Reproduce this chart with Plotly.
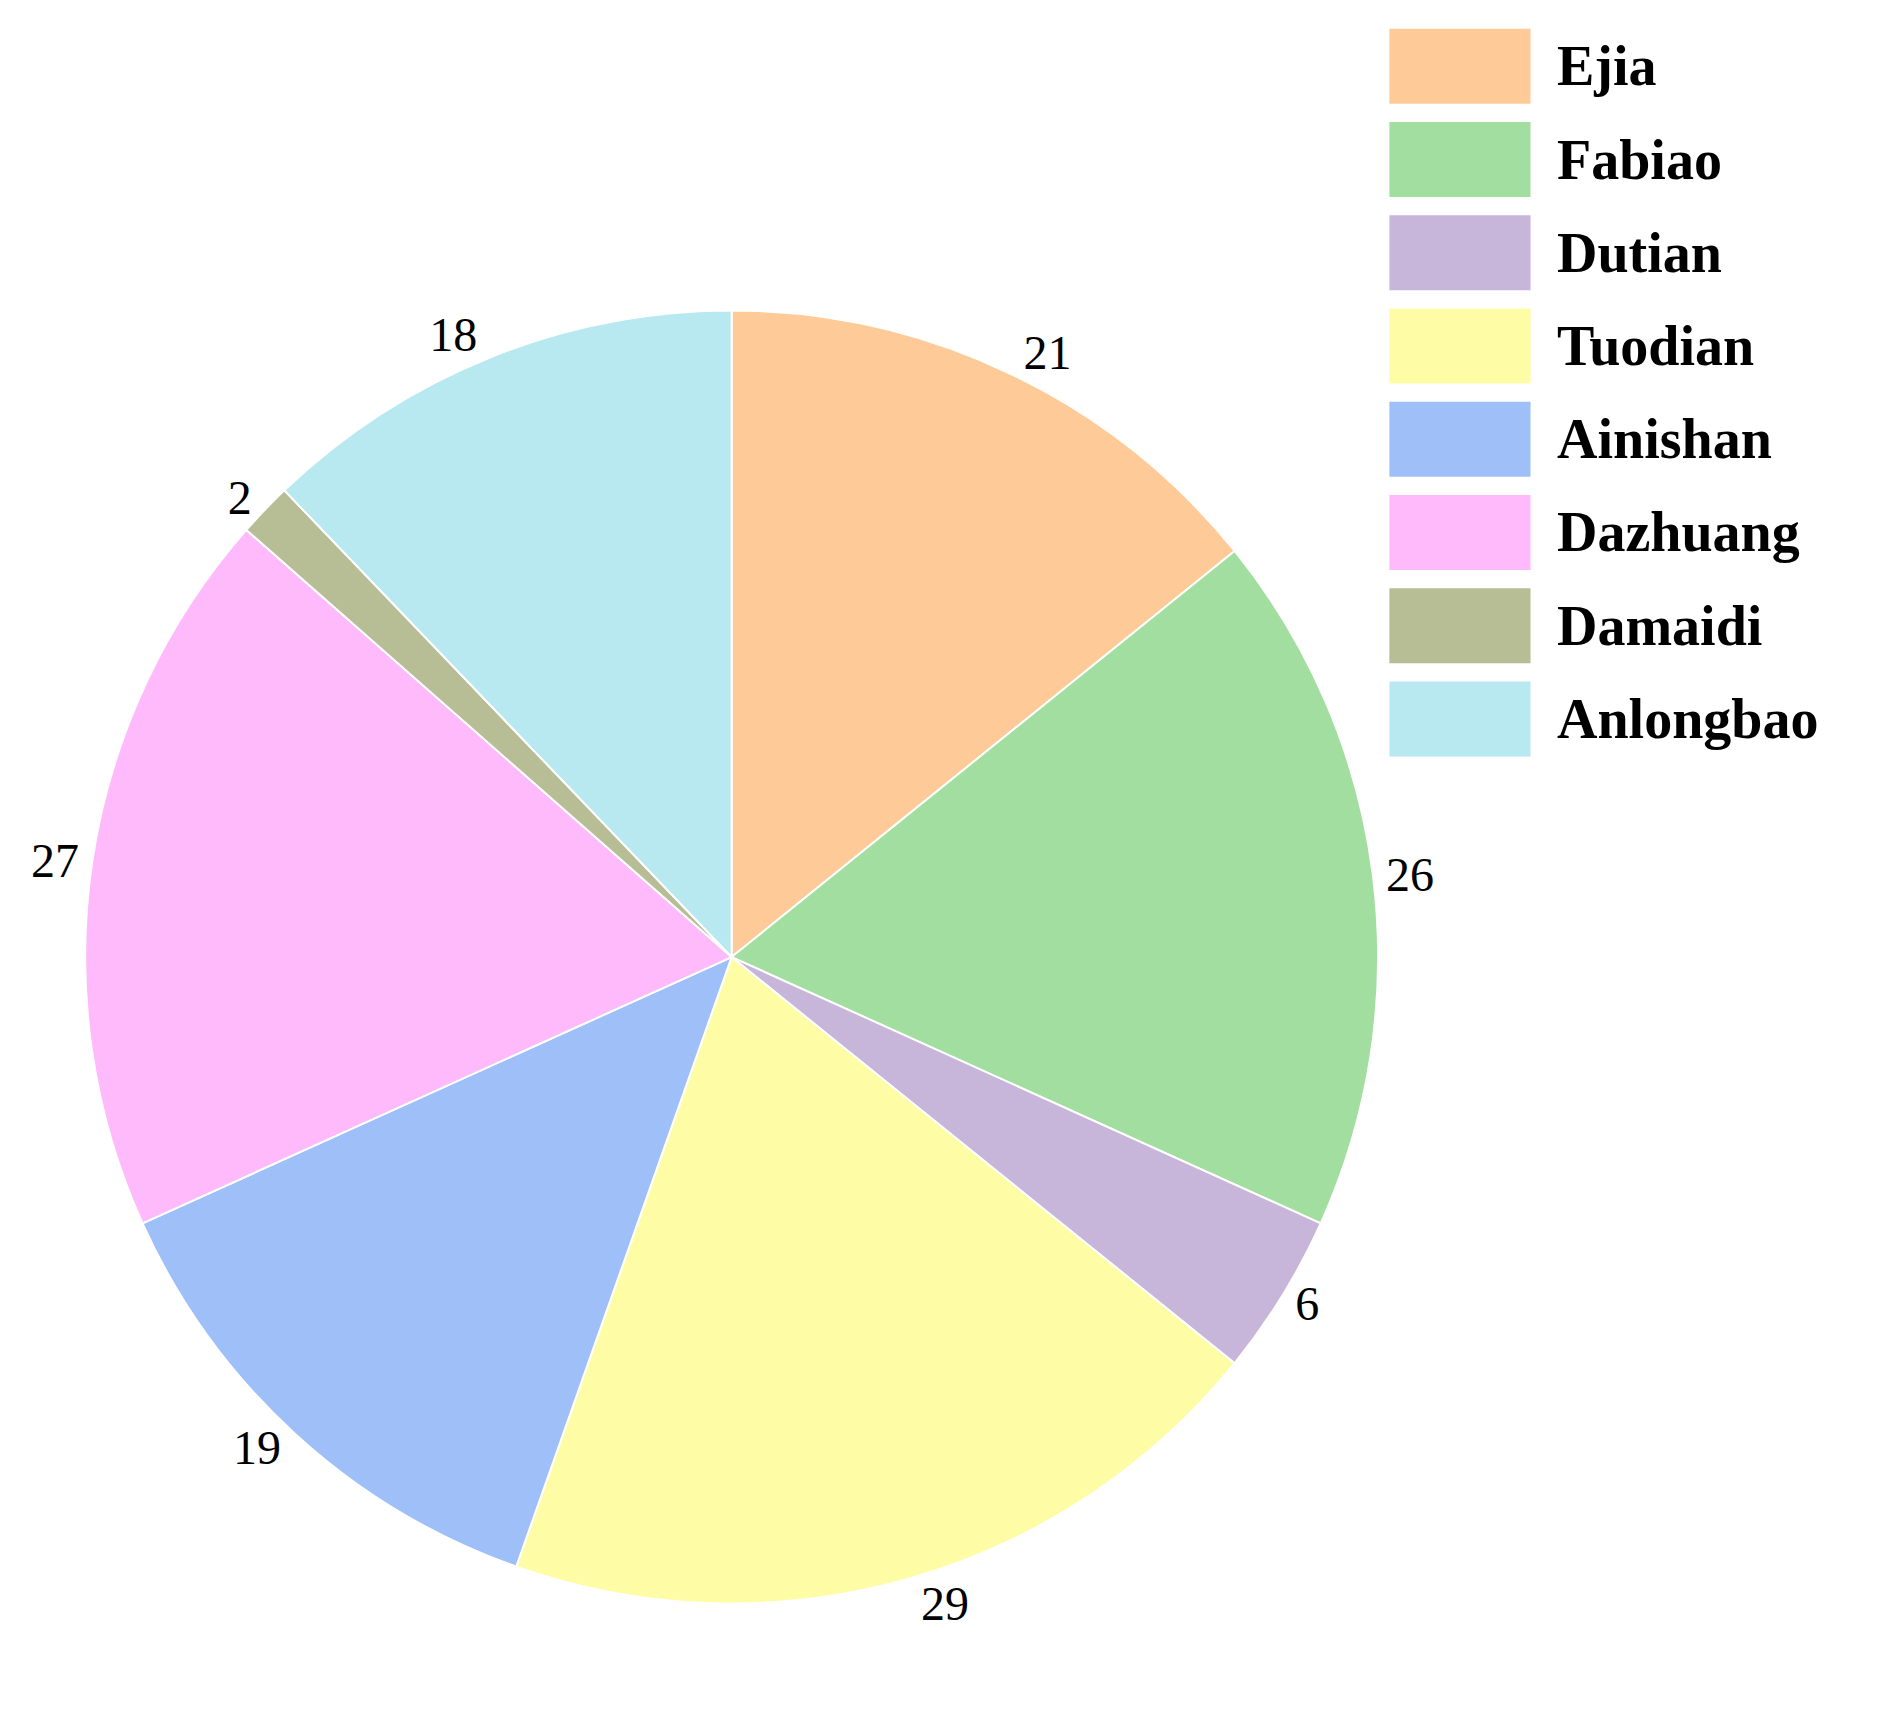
import plotly.graph_objects as go

labels = ["Ejia", "Fabiao", "Dutian", "Tuodian", "Ainishan", "Dazhuang", "Damaidi", "Anlongbao"]
values = [21, 26, 6, 29, 19, 27, 2, 18]
colors = ["#FECB98", "#A2DEA0", "#C8B5DA", "#FEFDA5", "#9EBFF8", "#FEBAFA", "#B7BD94", "#B9E9F0"]

fig = go.Figure(go.Pie(
    labels=labels, values=values, sort=False, direction="clockwise", rotation=0,
    marker=dict(colors=colors, line=dict(color="white", width=2)),
    textinfo="value", textposition="outside",
    textfont=dict(family="Liberation Serif", size=48, color="black"),
    showlegend=False, domain=dict(x=[0.041, 0.728], y=[0.015, 0.845]),
))

shapes, annots = [], []
for i, (lab, col) in enumerate(zip(labels, colors)):
    yc = 0.965 - 0.056 * i
    h = 0.045
    shapes.append(dict(type="rect", xref="paper", yref="paper",
                       x0=0.734, x1=0.809, y0=yc - h/2, y1=yc + h/2,
                       fillcolor=col, line=dict(width=0)))
    annots.append(dict(xref="paper", yref="paper", x=0.822, y=yc, text="<b>%s</b>" % lab,
                       showarrow=False, xanchor="left", yanchor="middle",
                       font=dict(family="Liberation Serif", size=56, color="black")))

fig.update_layout(width=1882, height=1717, margin=dict(l=0, r=0, t=0, b=0),
                  paper_bgcolor="white", shapes=shapes, annotations=annots)
fig.write_html("out.html")
